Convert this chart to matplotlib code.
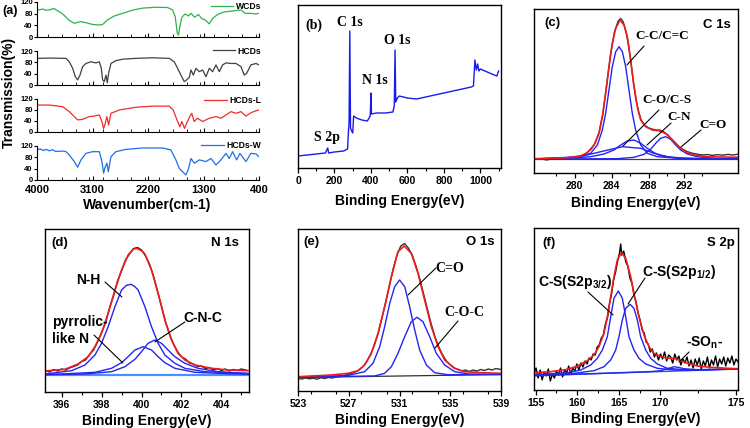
import matplotlib
matplotlib.use("Agg")
import matplotlib.pyplot as plt
from matplotlib.ticker import MultipleLocator, FixedLocator

plt.rcParams['font.family'] = ['Liberation Sans', 'DejaVu Sans']
plt.rcParams['font.weight'] = 'bold'
plt.rcParams['mathtext.fontset'] = 'custom'
plt.rcParams['mathtext.rm'] = 'Liberation Sans:bold'
plt.rcParams['mathtext.bf'] = 'Liberation Sans:bold'

SERIF = ['Liberation Serif', 'DejaVu Serif']

# ---------------- (a) FTIR ----------------
wcds_x = [4000, 3960, 3908, 3860, 3800, 3760, 3719, 3690, 3665, 3584, 3476, 3395, 3340, 3287, 3206,
          3098, 2990, 2936, 2855, 2747, 2612, 2450, 2288, 2072, 1883, 1802, 1759, 1726, 1705, 1683,
          1651, 1597, 1543, 1500, 1446, 1381, 1327, 1262, 1208, 1154, 1073, 965, 830, 695, 625, 533,
          452, 400]
wcds_y = [95, 93, 96, 92, 93, 96, 97, 93, 90, 79, 57, 47, 50, 53, 49,
          43, 41, 43, 59, 72, 81, 92, 99, 102, 101, 93, 70, 14, 7, 36,
          68, 79, 72, 81, 68, 77, 63, 57, 45, 63, 77, 86, 89, 93, 81, 81,
          79, 81]

hcds_x = [4000, 3800, 3530, 3476, 3422, 3379, 3341, 3303, 3260, 3206, 3125, 3044, 2990, 2957, 2936,
          2909, 2882, 2860, 2839, 2801, 2720, 2612, 2396, 2126, 1855, 1774, 1720, 1666, 1612, 1573,
          1530, 1503, 1465, 1422, 1368, 1314, 1260, 1206, 1152, 1098, 1044, 990, 936, 855, 774, 693,
          639, 601, 531, 450, 400]
hcds_y = [94, 95, 94, 82, 59, 29, 18, 35, 65, 76, 82, 78, 82, 59, 18,
          12, 35, 8, 41, 76, 86, 91, 94, 96, 94, 82, 59, 35, 12, 18,
          27, 53, 35, 59, 47, 53, 29, 59, 47, 71, 47, 71, 78, 76, 76, 65,
          35, 41, 71, 76, 71]

hcdsl_x = [4000, 3800, 3584, 3476, 3395, 3341, 3260, 3152, 3071, 2990, 2947, 2920, 2893, 2866, 2839,
           2801, 2666, 2396, 2126, 1855, 1791, 1720, 1683, 1651, 1608, 1576, 1522, 1490, 1452, 1398,
           1314, 1206, 1098, 1017, 936, 855, 774, 693, 612, 531, 450, 400]
hcdsl_y = [98, 98, 92, 74, 56, 44, 46, 56, 58, 62, 38, 13, 31, 56, 25,
           68, 80, 90, 94, 94, 80, 38, 19, 38, 13, 31, 56, 68, 38, 50,
           38, 50, 56, 50, 62, 74, 68, 74, 58, 70, 77, 80]

hcdsw_x = [4000, 3950, 3900, 3850, 3800, 3750, 3700, 3584, 3530, 3476, 3395, 3341, 3287, 3206, 3098,
           2990, 2947, 2920, 2893, 2866, 2844, 2801, 2720, 2558, 2288, 1964, 1829, 1748, 1693, 1639,
           1585, 1541, 1503, 1449, 1368, 1260, 1179, 1098, 1017, 936, 882, 828, 763, 709, 612, 531,
           450, 400]
hcdsw_y = [106, 110, 104, 108, 103, 107, 101, 102, 100, 88, 65, 45, 71, 94, 100,
           100, 65, 24, 47, 59, 29, 82, 100, 108, 113, 113, 106, 71, 41, 29,
           18, 41, 76, 59, 71, 65, 76, 53, 71, 94, 76, 100, 71, 94, 65, 94,
           92, 82]

ftir_names = ['WCDs', 'HCDs', 'HCDs-L', 'HCDs-W']
ftir_colors = ['#2db34a', '#404040', '#ee2c2c', '#1f6fe5']

# ---------------- (b) survey ----------------
surv_x = [0, 50, 100, 150, 163, 168, 200, 250, 272, 276, 280, 284, 288, 292, 300, 305, 320, 350,
          380, 396, 400, 403, 430, 480, 520, 528, 532, 536, 545, 555, 600, 650, 700, 750, 800,
          850, 900, 950, 962, 970, 978, 985, 992, 1000, 1050, 1090, 1100]
surv_y = [12, 13, 14, 15, 20, 15, 16, 17, 19, 35, 45, 137, 40, 38, 35, 52, 50, 48,
          47, 52, 75, 54, 55, 55, 56, 62, 118, 66, 70, 72, 70, 69, 71, 73, 75,
          77, 79, 81, 82, 108, 98, 104, 97, 99, 95, 92, 97]

# ---------------- (c) C 1s ----------------
c_data_x = [278.0, 278.5, 279.0, 279.5, 280.0, 280.5, 281.0, 281.5, 282.0, 282.5, 282.8, 283.1,
            283.4, 283.7, 284.0, 284.3, 284.6, 284.8, 285.0, 285.2, 285.4, 285.6, 285.8, 286.0,
            286.2, 286.4, 286.7, 287.0, 287.3, 287.6, 287.9, 288.2, 288.5, 288.8, 289.1, 289.4,
            289.7, 290.0, 290.4, 290.8, 291.2, 291.6, 292.0, 292.4, 292.8, 293.2, 293.6, 294.0]
c_data_y = [14.0, 14.3, 13.0, 14.5, 14.2, 15.0, 15.4, 16.5, 18.8, 24.0, 30.0, 40.5,
            59.0, 88.0, 118.0, 140.5, 152.0, 154.5, 151.0, 142.0, 129.0, 111.0, 91.0, 74.0,
            61.5, 53.0, 47.5, 45.0, 43.8, 43.0, 42.8, 41.0, 38.0, 34.0, 30.0, 26.0,
            23.5, 21.5, 19.8, 18.8, 18.0, 18.5, 17.6, 18.4, 17.8, 18.6, 18.0, 18.8]
c_env_x = [278.0, 280.61, 281.66, 282.18, 282.71, 283.1, 283.36, 283.62, 283.88, 284.14, 284.41,
           284.75, 285.06, 285.32, 285.58, 285.84, 286.1, 286.37, 286.76, 287.28, 287.8, 288.2,
           288.46, 288.98, 289.5, 290.03, 290.55, 291.59, 294.0]
c_env_y = [14.3, 15.3, 17, 20.3, 28, 39.7, 56.3, 79.7, 106.3, 129.7, 144.7,
           153, 148, 136.3, 113, 86.3, 66.3, 53, 46.3, 43, 42.3, 40.3,
           38, 31.3, 24.7, 20.3, 18, 16.3, 15.7]
c_cc_x = [278.0, 281.66, 282.44, 282.97, 283.36, 283.62, 283.88, 284.14, 284.41, 284.67, 284.93,
          285.19, 285.45, 285.71, 285.97, 286.37, 286.89, 287.67, 289.76, 294.0]
c_cc_y = [14, 16.3, 19.7, 28, 43, 59.7, 83, 106.3, 121.3, 126.3, 121.3,
          106.3, 83, 59.7, 43, 28, 19.7, 16.3, 14.3, 14]
c_co_x = [278.0, 280.61, 281.92, 283.23, 284.93, 286.37, 287.41, 288.46, 289.76, 294.0]
c_co_y = [14, 15.3, 17.3, 21.3, 26.3, 24.7, 19.7, 16.3, 14.7, 14]
c_cn_x = [278.0, 280.61, 282.44, 283.49, 284.27, 284.8, 285.32, 285.84, 286.37, 286.89, 287.41,
          287.93, 288.98, 291.07, 294.0]
c_cn_y = [14, 14.7, 16.3, 19, 23, 28, 32, 33, 29.7, 24.7, 20.3,
          17.3, 15.3, 14.3, 14]
c_cdo_x = [278.0, 284.54, 285.84, 286.63, 287.15, 287.54, 287.93, 288.33, 288.72, 289.11, 289.5,
           290.03, 290.81, 292.12, 294.0]
c_cdo_y = [14, 14.3, 15.7, 18.7, 23.7, 29.7, 34.7, 36.3, 33.7, 28, 23,
           19, 16.3, 14.7, 14]
c_base_x = [278.0, 294.0]
c_base_y = [14.0, 14.0]

# ---------------- (d) N 1s ----------------
d_data_x = [395.2, 395.4, 395.6, 395.8, 396.0, 396.2, 396.4, 396.6, 396.8, 397.0, 397.2, 397.4,
            397.6, 397.8, 398.0, 398.2, 398.4, 398.6, 398.8, 399.0, 399.2, 399.4, 399.6, 399.8,
            400.0, 400.2, 400.4, 400.6, 400.8, 401.0, 401.2, 401.4, 401.6, 401.8, 402.0, 402.2,
            402.4, 402.6, 402.8, 403.0, 403.2, 403.4, 403.6, 403.8, 404.0, 404.2, 404.4, 404.6,
            404.8, 405.0, 405.3]
d_data_y = [4.5, 3.0, 5.5, 4.0, 6.0, 5.0, 7.0, 8.5, 10.0, 13.5, 15.0, 20.5,
            25.0, 33.0, 42.5, 52.0, 67.0, 79.0, 94.0, 104.0, 115.0, 121.0, 126.5, 127.5,
            125.0, 119.0, 111.0, 99.0, 84.0, 69.0, 53.0, 41.0, 31.0, 23.5, 18.0, 16.0,
            12.0, 11.0, 8.5, 9.0, 6.5, 7.5, 5.0, 6.5, 4.5, 6.0, 4.0, 5.5,
            4.5, 6.0, 4.5]
d_env_x = [395.17, 396.17, 396.83, 397.33, 397.67, 398.0, 398.33, 398.67, 399.0, 399.33, 399.58,
           399.75, 400.0, 400.17, 400.5, 400.83, 401.17, 401.5, 401.83, 402.17, 402.67, 403.5,
           404.33, 405.33]
d_env_y = [4, 5.7, 11, 18.3, 28.3, 41.7, 61.7, 85, 105, 120, 125.7,
           126.7, 124.3, 121, 105, 81.7, 55, 35, 21.7, 15, 10, 6.7,
           5, 4.3]
d_nh_x = [395.17, 396.5, 397.17, 397.67, 398.0, 398.33, 398.67, 399.0, 399.25, 399.47, 399.67,
          399.83, 400.17, 400.5, 400.83, 401.17, 401.67, 402.17, 403.17, 405.33]
d_nh_y = [1, 4.3, 10, 20, 31.7, 48.3, 68.3, 85, 89.7, 90.7, 88.3,
          85, 68.3, 48.3, 31.7, 20, 11.7, 6.7, 3.3, 1.5]
d_pyr_x = [395.17, 396.0, 397.67, 398.5, 399.0, 399.33, 399.67, 400.08, 400.5, 400.83, 401.17,
           401.67, 402.67, 404.33, 405.33]
d_pyr_y = [0.5, 1, 2.7, 6.7, 12.3, 18.3, 25, 28.3, 25, 18.3, 12.3,
           6.7, 2.7, 1.3, 0.8]
d_cnc_x = [395.17, 397.17, 398.5, 399.17, 399.67, 400.0, 400.33, 400.67, 401.0, 401.33, 401.67,
           402.17, 402.83, 403.83, 405.33]
d_cnc_y = [0.3, 1, 3.3, 8.3, 15.7, 23.3, 31.7, 35, 31.7, 25, 18.3,
           11.7, 6.7, 3.3, 1.5]
d_base_x = [395.17, 405.38]
d_base_y = [0.0, 0.0]

# ---------------- (e) O 1s ----------------
e_data_x = [523.0, 523.3, 523.6, 523.9, 524.2, 524.5, 524.8, 525.1, 525.4, 525.7, 526.0, 526.3,
            526.6, 526.9, 527.2, 527.5, 527.8, 528.1, 528.4, 528.7, 529.0, 529.3, 529.6, 529.9,
            530.2, 530.5, 530.8, 531.1, 531.4, 531.7, 532.0, 532.3, 532.6, 532.9, 533.2, 533.5,
            533.8, 534.1, 534.4, 534.7, 535.0, 535.3, 535.6, 535.9, 536.2, 536.5, 536.8, 537.1,
            537.4, 537.7, 538.0, 538.3, 538.6, 539.0]
e_data_y = [12.5, 12.0, 13.0, 12.2, 12.8, 11.8, 13.2, 12.5, 13.5, 13.0, 14.0, 14.5,
            15.5, 16.5, 17.5, 19.0, 21.0, 24.0, 29.0, 36.0, 45.0, 57.0, 72.0, 88.0,
            105.0, 122.0, 136.0, 145.0, 147.5, 143.0, 136.0, 125.0, 112.0, 97.0, 82.0, 67.0,
            54.0, 44.0, 36.0, 30.0, 26.0, 23.0, 21.5, 20.0, 21.0, 19.5, 21.0, 20.0,
            21.5, 20.5, 22.0, 21.0, 22.5, 21.5]
e_env_x = [523.0, 525.63, 526.94, 527.73, 528.25, 528.78, 529.31, 529.83, 530.36, 530.88, 531.36,
           531.93, 532.46, 532.98, 533.51, 534.04, 534.56, 535.35, 536.14, 537.45, 539.0]
e_env_y = [14.3, 16, 17.7, 20.3, 26, 37.7, 57.7, 84.3, 114.3, 139.3, 145,
           137.7, 117.7, 91, 64.3, 44.3, 31, 22.7, 19.3, 18.3, 17.7]
e_cdo_x = [523.0, 526.94, 528.25, 528.91, 529.44, 529.83, 530.23, 530.62, 531.01, 531.41, 531.8,
           532.2, 532.59, 533.12, 533.77, 534.82, 539.0]
e_cdo_y = [14.0, 15.5, 19.3, 27.7, 44.3, 64.3, 87.7, 104.3, 111, 104.3, 84.3,
           61, 41, 26, 18.3, 16.3, 16.5]
e_coc_x = [523.0, 529.04, 529.83, 530.36, 530.88, 531.41, 531.93, 532.38, 532.85, 533.38, 533.9,
           534.56, 535.35, 536.4, 539.0]
e_coc_y = [14.0, 15, 17.7, 24.3, 37.7, 54.3, 69.3, 73.7, 69.3, 54.3, 37.7,
           26, 19.3, 17, 16.5]
e_base_x = [523.0, 539.0]
e_base_y = [13.5, 16.5]

# ---------------- (f) S 2p ----------------
f_data_x = [155.0, 155.2, 155.4, 155.6, 155.8, 156.0, 156.2, 156.4, 156.6, 156.8, 157.0, 157.2,
            157.4, 157.6, 157.8, 158.0, 158.2, 158.4, 158.6, 158.8, 159.0, 159.2, 159.4, 159.6,
            159.8, 160.0, 160.2, 160.4, 160.6, 160.8, 161.0, 161.2, 161.4, 161.6, 161.8, 162.0,
            162.2, 162.4, 162.6, 162.8, 163.0, 163.2, 163.4, 163.5, 163.6, 163.8, 164.0, 164.2,
            164.4, 164.6, 164.8, 165.0, 165.2, 165.4, 165.6, 165.8, 166.0, 166.2, 166.4, 166.6,
            166.8, 167.0, 167.2, 167.4, 167.6, 167.8, 168.0, 168.2, 168.4, 168.6, 168.8, 169.0,
            169.2, 169.4, 169.6, 169.8, 170.0, 170.2, 170.4, 170.6, 170.8, 171.0, 171.2, 171.4,
            171.6, 171.8, 172.0, 172.2, 172.4, 172.6, 172.8, 173.0, 173.2, 173.4, 173.6, 173.8,
            174.0, 174.2, 174.4, 174.6, 174.8, 175.0]
f_data_y = [17, 22, 12, 20, 10, 18, 14, 21, 9, 16, 12, 19,
            15, 22, 13, 20, 17, 24, 16, 22, 19, 26, 20, 27,
            23, 29, 26, 32, 30, 36, 35, 43, 45, 52, 55, 66,
            72, 86, 96, 110, 118, 129, 138, 146, 135, 139, 128, 124,
            112, 107, 95, 88, 77, 70, 60, 57, 48, 46, 38, 41,
            33, 37, 30, 36, 31, 38, 29, 35, 33, 27, 36, 30,
            34, 25, 31, 27, 33, 24, 30, 22, 31, 25, 32, 21,
            29, 24, 33, 22, 30, 25, 34, 23, 31, 26, 33, 24,
            32, 27, 34, 25, 31, 28]
f_env_x = [155.0, 156.63, 158.27, 159.25, 160.23, 160.88, 161.37, 161.86, 162.19, 162.52, 162.84,
           163.17, 163.56, 163.99, 164.48, 164.8, 165.29, 165.78, 166.27, 166.76, 167.42, 168.07,
           168.73, 169.22, 170.03, 171.01, 172.32, 173.95, 175.0]
f_env_y = [17.3, 18.3, 20.7, 24, 29.3, 35, 43.3, 56.7, 73.3, 93.3, 113.3,
           130, 137.3, 131.7, 113.3, 96.7, 73.3, 55, 43.3, 36.7, 33.3, 31.7,
           31.7, 30, 26.7, 24, 22.7, 21.7, 21.3]
f_cs32_x = [155.0, 158.27, 159.58, 160.56, 161.21, 161.7, 162.19, 162.52, 162.84, 163.27, 163.66,
            163.99, 164.31, 164.8, 165.29, 165.95, 167.09, 168.73, 171.34, 175.0]
f_cs32_y = [15, 17.3, 20, 25, 31.7, 40, 53.3, 73.3, 91.7, 99, 91.7,
            73.3, 53.3, 40, 31.7, 26, 21.7, 20, 20, 21]
f_cs12_x = [155.0, 158.92, 160.88, 161.86, 162.52, 163.01, 163.33, 163.66, 163.99, 164.41, 164.8,
            165.13, 165.46, 165.95, 166.44, 167.09, 168.07, 169.71, 171.99, 175.0]
f_cs12_y = [14.5, 16.7, 19.3, 23.3, 30, 40, 53.3, 70, 81.7, 85.7, 81.7,
            70, 53.3, 40, 31.7, 26, 21.7, 20.3, 20.5, 21]
f_son_x = [155.0, 166.44, 167.42, 168.07, 168.73, 169.22, 169.71, 171.01, 175.0]
f_son_y = [14.3, 18.4, 19.3, 21.2, 23.3, 22.5, 21.3, 20.2, 21.0]
f_base_x = [155.0, 175.0]
f_base_y = [14.3, 21.0]

RED = '#ee1c1c'
BLUE = '#2424f0'
TICKFS = 7.5


def box(l, t, r, b):
    return [l / 750, 1 - b / 428, (r - l) / 750, (b - t) / 428]


def xps_axes(rect):
    ax = fig.add_axes(rect)
    for s in ax.spines.values():
        s.set_linewidth(1.0)
    ax.set_yticks([])
    ax.tick_params(axis='x', which='major', direction='out', length=3.5, width=0.9,
                   labelsize=TICKFS, pad=2)
    ax.tick_params(axis='x', which='minor', direction='out', length=2, width=0.8)
    return ax


def pointer(ax, p0, p1):
    ax.annotate('', xy=p1, xytext=p0,
                arrowprops=dict(arrowstyle='-', color='black', lw=0.8, shrinkA=0, shrinkB=0))


fig = plt.figure(figsize=(7.5, 4.28), dpi=100)

# ---- (a) ----
ftir = [(wcds_x, wcds_y), (hcds_x, hcds_y), (hcdsl_x, hcdsl_y), (hcdsw_x, hcdsw_y)]
a_rows = [(2, 37), (51, 85), (99, 132), (146, 180)]
leg_y = [0.88, 1.0, 0.95, 1.0]
for i, ((xs, ys), (t, b)) in enumerate(zip(ftir, a_rows)):
    ax = fig.add_axes(box(37, t, 259, b))
    ax.plot(xs, ys, color=ftir_colors[i], lw=0.9, label=ftir_names[i])
    ax.set_xlim(4000, 400)
    ax.set_ylim(0, 120)
    ax.set_yticks([0, 40, 80, 120])
    ax.set_xticks([4000, 3100, 2200, 1300, 400])
    ax.xaxis.set_minor_locator(MultipleLocator(225))
    ax.spines['top'].set_visible(False)
    ax.spines['right'].set_visible(False)
    ax.tick_params(axis='y', labelsize=5.5, length=2, width=0.8, pad=1)
    ax.tick_params(axis='x', which='major', direction='in', length=3, width=0.8)
    ax.tick_params(axis='x', which='minor', direction='in', length=2, width=0.6)
    if i < 3:
        ax.tick_params(axis='x', labelbottom=False)
    else:
        ax.tick_params(axis='x', labelsize=8, pad=3.5)
    ax.legend(loc='center right', bbox_to_anchor=(1.01, leg_y[i]), frameon=False,
              fontsize=6.2, handlelength=2.6, handletextpad=0.3, borderpad=0, borderaxespad=0)
fig.text(2 / 750, 1 - 11 / 428, '(a)', fontsize=9, fontweight='bold', va='center')
fig.text(9 / 750, 1 - 92 / 428, 'Transmission(%)', rotation=90, fontsize=10,
         fontweight='bold', ha='center', va='center')
fig.text(147 / 750, 1 - 205 / 428, 'Wavenumber(cm-1)', fontsize=10, fontweight='bold',
         ha='center', va='center')

# ---- (b) ----
ax = xps_axes(box(298, 5, 501, 168))
ax.plot(surv_x, surv_y, color='#1a1aee', lw=1.0)
ax.set_xlim(0, 1113)
ax.set_ylim(0, 163)
ax.xaxis.set_major_locator(MultipleLocator(200))
ax.xaxis.set_minor_locator(MultipleLocator(100))
ax.set_xlabel('Binding Energy(eV)', fontsize=10, fontweight='bold', labelpad=6)
ax.text(0.034, 0.877, '(b)', transform=ax.transAxes, fontsize=10, fontweight='bold',
        family=SERIF, va='center')
ax.text(287, 146, 'C 1s', fontsize=10, fontweight='bold', family=SERIF, ha='center', va='center')
ax.text(419, 87, 'N 1s', fontsize=10, fontweight='bold', family=SERIF, ha='center', va='center')
ax.text(544, 127, 'O 1s', fontsize=10, fontweight='bold', family=SERIF, ha='center', va='center')
ax.text(161, 31, 'S 2p', fontsize=10, fontweight='bold', family=SERIF, ha='center', va='center')

# ---- (c) ----
ax = xps_axes(box(534, 9, 738, 173))
ax.plot(c_base_x, c_base_y, color='#404040', lw=0.9)
ax.plot(c_data_x, c_data_y, color='#333333', lw=1.0)
ax.plot(c_cc_x, c_cc_y, color=BLUE, lw=1.0)
ax.plot(c_co_x, c_co_y, color=BLUE, lw=1.0)
ax.plot(c_cn_x, c_cn_y, color=BLUE, lw=1.0)
ax.plot(c_cdo_x, c_cdo_y, color=BLUE, lw=1.0)
ax.plot(c_env_x, c_env_y, color=RED, lw=1.2)
ax.set_xlim(278, 294)
ax.set_ylim(0, 164)
ax.xaxis.set_major_locator(FixedLocator([281.2, 284.1, 287.0, 289.8]))
ax.set_xticklabels(['280', '284', '288', '292'])
ax.xaxis.set_minor_locator(FixedLocator([279.75, 282.65, 285.55, 288.4, 291.2]))
ax.set_xlabel('Binding Energy(eV)', fontsize=10, fontweight='bold', labelpad=4)
ax.text(0.049, 0.915, '(c)', transform=ax.transAxes, fontsize=9.5, va='center')
ax.text(0.966, 0.90, 'C 1s', transform=ax.transAxes, fontsize=9.5, ha='right', va='center')
ax.text(288.04, 137, 'C-C/C=C', family=SERIF, fontsize=9.5, fontweight='bold', ha='center', va='center')
pointer(ax, (286.63, 127), (285.29, 108))
ax.text(288.43, 73, 'C-O/C-S', family=SERIF, fontsize=9.5, fontweight='bold', ha='center', va='center')
pointer(ax, (287.8, 63), (284.98, 27))
ax.text(289.37, 56, 'C-N', family=SERIF, fontsize=9.5, fontweight='bold', ha='center', va='center')
pointer(ax, (288.75, 50), (286.86, 28))
ax.text(292.04, 48, 'C=O', family=SERIF, fontsize=9.5, fontweight='bold', ha='center', va='center')
pointer(ax, (291.1, 43), (289.53, 26))

# ---- (d) ----
ax = xps_axes(box(45, 229, 249, 392))
ax.plot(d_base_x, d_base_y, color='#4a90ff', lw=1.6)
ax.plot(d_data_x, d_data_y, color='#222222', lw=1.0)
ax.plot(d_nh_x, d_nh_y, color=BLUE, lw=1.0)
ax.plot(d_pyr_x, d_pyr_y, color=BLUE, lw=1.0)
ax.plot(d_cnc_x, d_cnc_y, color=BLUE, lw=1.0)
ax.plot(d_env_x, d_env_y, color=RED, lw=1.2)
ax.set_xlim(395.17, 405.38)
ax.set_ylim(-17, 146)
ax.xaxis.set_major_locator(MultipleLocator(2))
ax.xaxis.set_minor_locator(MultipleLocator(1))
ax.set_xlabel('Binding Energy(eV)', fontsize=10, fontweight='bold', labelpad=3)
ax.text(0.03, 0.914, '(d)', transform=ax.transAxes, fontsize=9.5, va='center')
ax.text(0.951, 0.914, 'N 1s', transform=ax.transAxes, fontsize=9.5, ha='right', va='center')
ax.text(397.32, 95, 'N-H', fontsize=10, ha='center', va='center')
pointer(ax, (398.17, 93), (399.02, 78))
ax.text(395.52, 60, 'pyrrolic-\nlike N', fontsize=10, ha='left', va='top', linespacing=1.25)
pointer(ax, (397.62, 40), (399.07, 12))
ax.text(403.07, 57, 'C-N-C', fontsize=10, ha='center', va='center')
pointer(ax, (402.17, 53), (400.67, 33))

# ---- (e) ----
ax = xps_axes(box(298, 229, 501, 391))
ax.plot(e_base_x, e_base_y, color='#303030', lw=0.9)
ax.plot(e_data_x, e_data_y, color='#333333', lw=1.0)
ax.plot(e_cdo_x, e_cdo_y, color=BLUE, lw=1.0)
ax.plot(e_coc_x, e_coc_y, color=BLUE, lw=1.0)
ax.plot(e_env_x, e_env_y, color=RED, lw=1.2)
ax.set_xlim(523, 539)
ax.set_ylim(0, 162)
ax.xaxis.set_major_locator(MultipleLocator(4))
ax.xaxis.set_minor_locator(MultipleLocator(2))
ax.set_xticks([523, 527, 531, 535, 539])
ax.set_xlabel('Binding Energy(eV)', fontsize=10, fontweight='bold', labelpad=3)
ax.text(0.025, 0.92, '(e)', transform=ax.transAxes, fontsize=9.5, va='center')
ax.text(0.97, 0.92, 'O 1s', transform=ax.transAxes, fontsize=9.5, ha='right', va='center')
ax.text(534.98, 122, 'C=O', family=SERIF, fontsize=10, fontweight='bold', ha='center', va='center')
pointer(ax, (533.87, 123), (531.67, 96))
ax.text(536.08, 79, 'C-O-C', family=SERIF, fontsize=10, fontweight='bold', ha='center', va='center')
pointer(ax, (535.61, 70), (533.8, 43))

# ---- (f) ----
ax = xps_axes(box(534, 228, 738, 390))
ax.plot(f_base_x, f_base_y, color='#2456e6', lw=1.0)
ax.plot(f_data_x, f_data_y, color='black', lw=1.0)
ax.plot(f_cs32_x, f_cs32_y, color=BLUE, lw=1.0)
ax.plot(f_cs12_x, f_cs12_y, color=BLUE, lw=1.0)
ax.plot(f_son_x, f_son_y, color=BLUE, lw=1.0)
ax.plot(f_env_x, f_env_y, color=RED, lw=1.2)
ax.set_xlim(155, 175)
ax.set_ylim(0, 162)
ax.xaxis.set_major_locator(FixedLocator([155.17, 159.2, 163.3, 167.4, 174.8]))
ax.set_xticklabels(['155', '160', '165', '170', '175'])
ax.xaxis.set_minor_locator(FixedLocator([157.2, 161.25, 165.35, 171.1]))
ax.set_xlabel('Binding Energy(eV)', fontsize=10, fontweight='bold', labelpad=3)
ax.text(0.04, 0.907, '(f)', transform=ax.transAxes, fontsize=9.5, va='center')
ax.text(0.985, 0.907, 'S 2p', transform=ax.transAxes, fontsize=9.5, ha='right', va='center')
ax.text(159.02, 108, r'C-S(S2p$_{\bf 3/2}$)', fontsize=10, ha='center', va='center')
pointer(ax, (160.29, 98), (162.75, 75))
ax.text(169.22, 118, r'C-S(S2p$_{\bf 1/2}$)', fontsize=10, ha='center', va='center')
pointer(ax, (165.88, 112), (164.22, 86))
ax.text(171.76, 47, r'-SO$_{\bf n}$-', fontsize=10, ha='center', va='center')
pointer(ax, (170.2, 38), (169.22, 28))

fig.savefig('out.png', dpi=100)
